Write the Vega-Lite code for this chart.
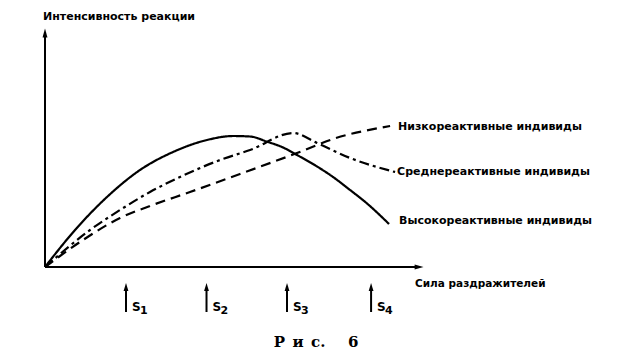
{
  "$schema": "https://vega.github.io/schema/vega-lite/v6.json",
  "autosize": {"type": "none"},
  "padding": {"left": 45, "top": 30, "right": 211, "bottom": 85},
  "width": 376,
  "height": 237,
  "background": "white",
  "config": {"view": {"stroke": null}, "font": "DejaVu Sans"},
  "datasets": {
    "curves": [
      {"series": "high", "x": 0, "y": 0},
      {"series": "high", "x": 0.373, "y": 1.561},
      {"series": "high", "x": 0.77, "y": 2.954},
      {"series": "high", "x": 1.18, "y": 4.093},
      {"series": "high", "x": 1.59, "y": 4.852},
      {"series": "high", "x": 2.012, "y": 5.359},
      {"series": "high", "x": 2.335, "y": 5.527},
      {"series": "high", "x": 2.547, "y": 5.506},
      {"series": "high", "x": 2.758, "y": 5.287},
      {"series": "high", "x": 2.957, "y": 5.042},
      {"series": "high", "x": 3.13, "y": 4.726},
      {"series": "high", "x": 3.379, "y": 4.241},
      {"series": "high", "x": 3.578, "y": 3.797},
      {"series": "high", "x": 3.789, "y": 3.249},
      {"series": "high", "x": 4.0, "y": 2.679},
      {"series": "high", "x": 4.273, "y": 1.814},
      {"series": "medium", "x": 0, "y": 0},
      {"series": "medium", "x": 0.559, "y": 1.561},
      {"series": "medium", "x": 0.932, "y": 2.405},
      {"series": "medium", "x": 1.304, "y": 3.165},
      {"series": "medium", "x": 1.677, "y": 3.797},
      {"series": "medium", "x": 2.174, "y": 4.515},
      {"series": "medium", "x": 2.547, "y": 4.937},
      {"series": "medium", "x": 3.081, "y": 5.654},
      {"series": "medium", "x": 3.379, "y": 5.232},
      {"series": "medium", "x": 3.789, "y": 4.599},
      {"series": "medium", "x": 4.348, "y": 4.008},
      {"series": "low", "x": 0, "y": 0},
      {"series": "low", "x": 0.472, "y": 1.139},
      {"series": "low", "x": 0.932, "y": 2.068},
      {"series": "low", "x": 1.304, "y": 2.574},
      {"series": "low", "x": 1.801, "y": 3.165},
      {"series": "low", "x": 2.422, "y": 3.924},
      {"series": "low", "x": 3.13, "y": 4.81},
      {"series": "low", "x": 3.578, "y": 5.401},
      {"series": "low", "x": 4.286, "y": 5.949}
    ],
    "labels": [
      {"x": 4.385, "y": 5.91, "text": "Низкореактивные индивиды"},
      {"x": 4.373, "y": 4.01, "text": "Среднереактивные индивиды"},
      {"x": 4.398, "y": 1.94, "text": "Высокореактивные индивиды"}
    ],
    "axes": [
      {"x": 0, "y": 0, "x2": 4.6, "y2": 0},
      {"x": 0, "y": 0, "x2": 0, "y2": 9.75}
    ],
    "axisHeads": [
      {"x": 4.646, "y": 0, "dir": "right"},
      {"x": 0, "y": 9.87, "dir": "up"}
    ],
    "stimuli": [
      {"x": 1.006, "sub": "1"},
      {"x": 2.006, "sub": "2"},
      {"x": 3.006, "sub": "3"},
      {"x": 4.05, "sub": "4"}
    ],
    "titles": [
      {"x": -0.025, "y": 10.55, "text": "Интенсивность реакции", "size": "s"},
      {"x": 4.596, "y": -0.72, "text": "Сила раздражителей", "size": "l"}
    ],
    "caption": [
      {"x": 3.366, "y": -3.16, "text": "Р и с. 6"}
    ]
  },
  "layer": [
    {
      "data": {"name": "axes"},
      "mark": {"type": "rule", "color": "black", "strokeWidth": 2},
      "encoding": {
        "x": {"field": "x", "type": "quantitative", "scale": {"domain": [0, 4.67], "nice": false}, "axis": null},
        "y": {"field": "y", "type": "quantitative", "scale": {"domain": [0, 10], "nice": false}, "axis": null},
        "x2": {"field": "x2"},
        "y2": {"field": "y2"}
      }
    },
    {
      "data": {"name": "axisHeads"},
      "mark": {"type": "point", "filled": true, "color": "black", "opacity": 1, "size": 80},
      "encoding": {
        "x": {"field": "x", "type": "quantitative"},
        "y": {"field": "y", "type": "quantitative"},
        "shape": {"field": "dir", "type": "nominal", "legend": null,
          "scale": {"domain": ["right", "up"], "range": ["M1,0L-1,-0.55L-1,0.55Z", "M0,-1L0.55,1L-0.55,1Z"]}}
      }
    },
    {
      "data": {"name": "curves"},
      "mark": {"type": "line", "color": "black", "strokeWidth": 2.2, "interpolate": "monotone"},
      "encoding": {
        "x": {"field": "x", "type": "quantitative"},
        "y": {"field": "y", "type": "quantitative"},
        "detail": {"field": "series"},
        "strokeDash": {"field": "series", "type": "nominal", "legend": null,
          "scale": {"domain": ["high", "medium", "low"], "range": [[1, 0], [10, 4, 3, 4], [10, 6]]}}
      }
    },
    {
      "data": {"name": "labels"},
      "mark": {"type": "text", "align": "left", "baseline": "middle", "fontSize": 11, "fontWeight": "bold", "color": "black"},
      "encoding": {
        "x": {"field": "x", "type": "quantitative"},
        "y": {"field": "y", "type": "quantitative"},
        "text": {"field": "text"}
      }
    },
    {
      "data": {"name": "titles"},
      "mark": {"type": "text", "align": "left", "baseline": "middle", "fontWeight": "bold", "color": "black"},
      "encoding": {
        "x": {"field": "x", "type": "quantitative"},
        "y": {"field": "y", "type": "quantitative"},
        "text": {"field": "text"},
        "size": {"field": "size", "type": "nominal", "legend": null, "scale": {"domain": ["s", "l"], "range": [11, 10.5]}}
      }
    },
    {
      "data": {"name": "stimuli"},
      "mark": {"type": "rule", "color": "black", "strokeWidth": 2},
      "encoding": {
        "x": {"field": "x", "type": "quantitative"},
        "y": {"datum": -1.9, "type": "quantitative"},
        "y2": {"datum": -0.9}
      }
    },
    {
      "data": {"name": "stimuli"},
      "mark": {"type": "point", "filled": true, "color": "black", "opacity": 1, "size": 64, "shape": "M0,-1L0.6,1L-0.6,1Z"},
      "encoding": {
        "x": {"field": "x", "type": "quantitative"},
        "y": {"datum": -0.84, "type": "quantitative"}
      }
    },
    {
      "data": {"name": "stimuli"},
      "mark": {"type": "text", "align": "left", "baseline": "middle", "fontSize": 12, "fontWeight": "bold", "color": "black", "dx": 6, "text": "S"},
      "encoding": {
        "x": {"field": "x", "type": "quantitative"},
        "y": {"datum": -1.68, "type": "quantitative"}
      }
    },
    {
      "data": {"name": "stimuli"},
      "mark": {"type": "text", "align": "left", "baseline": "middle", "fontSize": 11, "fontWeight": "bold", "color": "black", "dx": 14},
      "encoding": {
        "x": {"field": "x", "type": "quantitative"},
        "y": {"datum": -1.86, "type": "quantitative"},
        "text": {"field": "sub"}
      }
    },
    {
      "data": {"name": "caption"},
      "mark": {"type": "text", "align": "center", "baseline": "middle", "fontSize": 15, "fontWeight": 900, "font": "DejaVu Serif", "color": "black"},
      "encoding": {
        "x": {"field": "x", "type": "quantitative"},
        "y": {"field": "y", "type": "quantitative"},
        "text": {"value": "Р\u2002и\u2002с.\u2003\u20026"}
      }
    }
  ]
}
